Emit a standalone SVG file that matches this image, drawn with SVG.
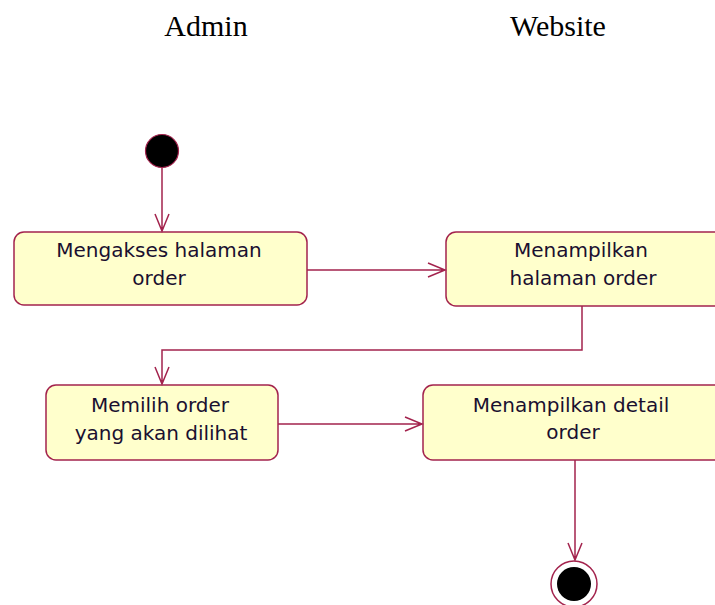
<svg xmlns="http://www.w3.org/2000/svg" width="715" height="605" viewBox="0 0 715 605">
<style>
.box{fill:#FFFFCC;stroke:#A3234D;stroke-width:1.5}
.t{font-family:"DejaVu Sans",Tahoma,sans-serif;font-size:20px;fill:#1a1030;text-anchor:middle}
.h{font-family:"Liberation Serif","Times New Roman",serif;font-size:30px;fill:#000;text-anchor:middle}
.c{fill:none;stroke:#A3234D;stroke-width:1.5}
</style>
<rect width="715" height="605" fill="#fff"/>
<text class="h" x="206" y="36">Admin</text>
<text class="h" x="558" y="36">Website</text>
<g id="start"><circle cx="162" cy="151" r="16.5" fill="#000" stroke="#A3234D" stroke-width="1.2"/></g>
<g id="n1"><rect class="box" x="14" y="232" width="293" height="73" rx="10"/>
<text class="t" x="159" y="257">Mengakses halaman</text><text class="t" x="159" y="285">order</text></g>
<g id="n2"><rect class="box" x="446" y="232" width="280" height="74" rx="10"/>
<text class="t" x="581" y="257">Menampilkan</text><text class="t" x="583" y="285">halaman order</text></g>
<g id="n3"><rect class="box" x="46" y="385" width="232" height="75" rx="10"/>
<text class="t" x="160" y="412">Memilih order</text><text class="t" x="161" y="440">yang akan dilihat</text></g>
<g id="n4"><rect class="box" x="423" y="385" width="303" height="75" rx="10"/>
<text class="t" x="571" y="412">Menampilkan detail</text><text class="t" x="573" y="439">order</text></g>
<g id="end"><circle cx="574" cy="584" r="23" fill="#fff" stroke="#A3234D" stroke-width="1.5"/><circle cx="574" cy="584" r="17" fill="#000"/></g>
<g id="connectors">
<path class="c" d="M162 168V231M155 214L162 231L169 214"/>
<path class="c" d="M307 270H445M428 263L445 270L428 277"/>
<path class="c" d="M582 306V350H162V384M155 367L162 384L169 367"/>
<path class="c" d="M278 424H422M405 417L422 424L405 431"/>
<path class="c" d="M575 460V560M568 543L575 560L582 543"/>
</g>
</svg>
